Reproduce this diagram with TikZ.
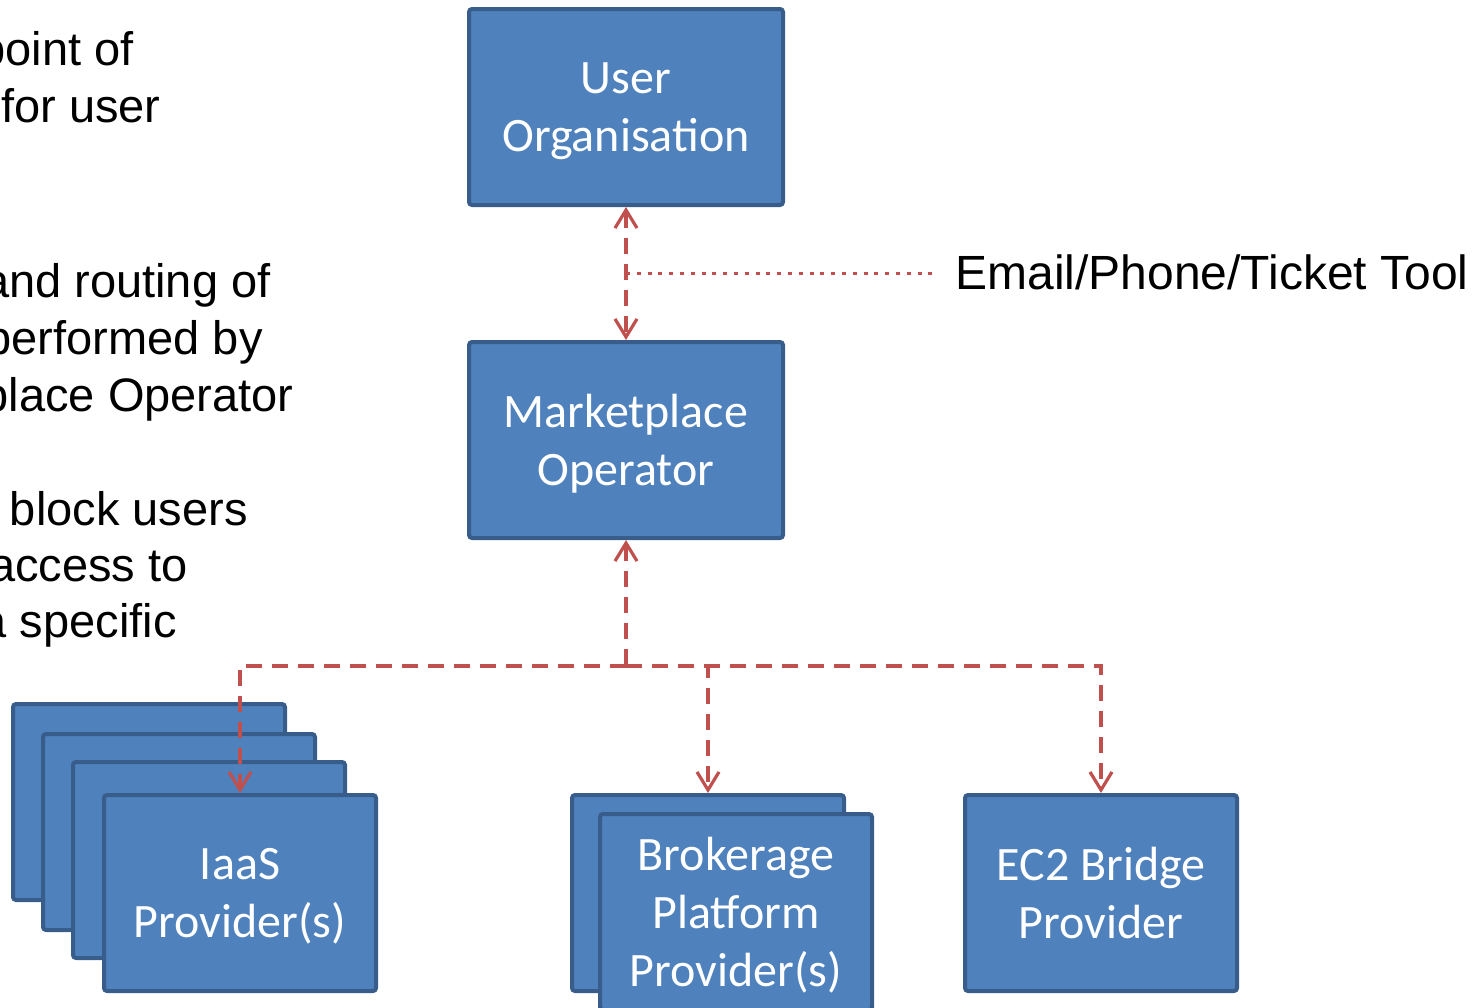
\documentclass[tikz,border=0pt]{standalone}
\usepackage{fontspec}
\setmainfont{Liberation Sans}
\newfontfamily\boxfont{Carlito}
\usepackage{tikz}
\usetikzlibrary{arrows.meta}
\usetikzlibrary{calc}
\usetikzlibrary{positioning}

\definecolor{boxfill}{HTML}{4F81BD}
\definecolor{boxline}{HTML}{385D8A}
\definecolor{linkred}{HTML}{C0504D}

\tikzset{
  unit/.style={draw=boxline, fill=boxfill, line width=2pt,
    rounded corners=1.5pt, text=white, align=center, inner sep=0pt,
    font=\boxfont\fontsize{24}{29}\selectfont, text depth=0pt,
    minimum width=136pt, minimum height=98pt},
  wideunit/.style={unit, minimum width=157pt},
  link/.style={draw=linkred, line width=1.6pt,
    dash pattern=on 8pt off 5pt},
  toollink/.style={draw=linkred, line width=1.6pt,
    dash pattern=on 2pt off 3.4pt},
  note/.style={font=\fontsize{23.5}{28}\selectfont, inner sep=0pt,
    anchor=base east}
}

\begin{document}
\begin{tikzpicture}[x=0.5pt, y=-0.5pt,
    >={Straight Barb[length=9pt,width=11pt]}]

    \useasboundingbox (0, 0) rectangle (1477, 1007);
    \clip (0, 0) rectangle (1477, 1007);

    % text on the left, cut off by the edge
    \foreach \txt/\xx/\yy [count=\i] in {point of/134/65,
      for user/161/122, and routing of/271/297,
      performed by/263/354, place Operator/294/411,
      block users/248/525, access to/188/581, a specific/177/637}
      \node[note] (note\i) at (\xx, \yy) {\txt};

    \node[wideunit] (user) at (626, 107) {User\\Organisation};
    \node[wideunit] (market) at (626, 440) {Marketplace\\Operator};

    % stacked providers
    \node[unit] (iaas1) at (149, 802) {};
    \node[unit] (iaas2) at (179, 832) {};
    \node[unit] (iaas3) at (209, 860) {};
    \node[unit] (iaas) at (240, 893) {IaaS\\Provider(s)};

    \node[unit] (broker1) at (708, 893) {};
    \node[unit] (broker) at (736, 912) {Brokerage\\Platform\\Provider(s)};

    \node[unit] (ec2) at (1101, 893) {EC2 Bridge\\Provider};

    \node[font=\fontsize{24}{28}\selectfont, anchor=base west,
      inner sep=0pt, inner xsep=9pt] (tool) at (937, 289)
      {Email/Phone/Ticket Tool};

    % connectors
    \draw[link, <->] (user) -- (market);
    \coordinate (mid) at ($(user.south)!0.5!(market.north)$);
    \draw[toollink] (mid) -- (mid -| tool.west);

    \coordinate (bus) at (0, 666);
    \draw[link, <-] (market) -- (market |- bus);
    \draw[link, ->] (market |- bus) -| (iaas);
    \draw[link, ->] (market |- bus) -| (broker1);
    \draw[link, ->] (market |- bus) -| (ec2);

\end{tikzpicture}
\end{document}
